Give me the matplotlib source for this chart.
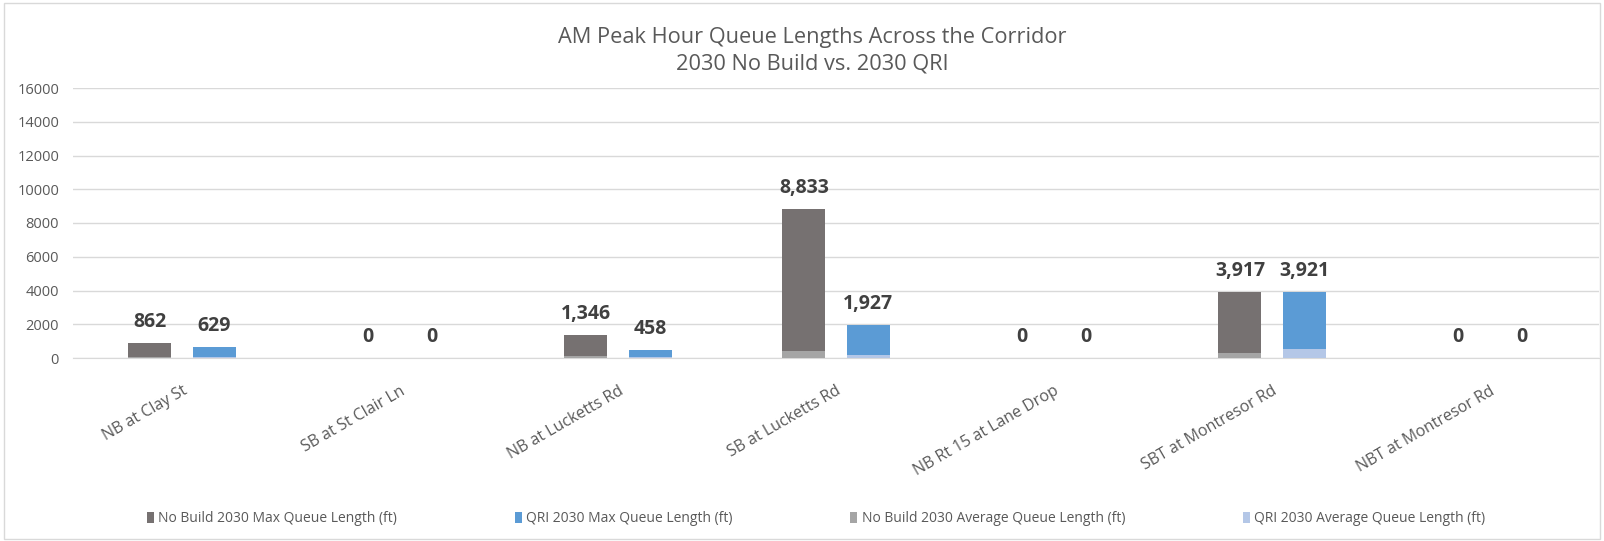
import matplotlib
matplotlib.use('Agg')
import matplotlib.pyplot as plt
import numpy as np
from matplotlib.patches import Rectangle

plt.rcParams['font.family'] = ['Open Sans', 'DejaVu Sans']

locations = ['NB at Clay St', 'SB at St Clair Ln', 'NB at Lucketts Rd', 'SB at Lucketts Rd',
             'NB Rt 15 at Lane Drop', 'SBT at Montresor Rd', 'NBT at Montresor Rd']
nobuild_max = [862, 0, 1346, 8833, 0, 3917, 0]
qri_max = [629, 0, 458, 1927, 0, 3921, 0]
nobuild_avg = [60, 0, 90, 430, 0, 300, 0]
qri_avg = [50, 0, 40, 150, 0, 560, 0]

C_NB_MAX = '#767171'
C_QRI_MAX = '#5b9bd5'
C_NB_AVG = '#a5a5a5'
C_QRI_AVG = '#b4c7e7'
TXT = '#595959'

fig = plt.figure(figsize=(16.04, 5.41), dpi=100)
ax = fig.add_axes([73 / 1604, 1 - 358 / 541, (1599 - 73) / 1604, 270 / 541])

x = np.arange(len(locations))
w = 0.197
off = 0.147

b1 = ax.bar(x - off, nobuild_max, w, color=C_NB_MAX, zorder=2, label='No Build 2030 Max Queue Length (ft)')
b2 = ax.bar(x + off, qri_max, w, color=C_QRI_MAX, zorder=2, label='QRI 2030 Max Queue Length (ft)')
b3 = ax.bar(x - off, nobuild_avg, w, color=C_NB_AVG, zorder=3, label='No Build 2030 Average Queue Length (ft)')
b4 = ax.bar(x + off, qri_avg, w, color=C_QRI_AVG, zorder=3, label='QRI 2030 Average Queue Length (ft)')

# value labels on the max-queue bars only
for bars, vals in ((b1, nobuild_max), (b2, qri_max)):
    for rect, v in zip(bars, vals):
        ax.annotate(f'{v:,}', (rect.get_x() + rect.get_width() / 2, v),
                    xytext=(0, 8), textcoords='offset points', ha='center', va='bottom',
                    fontsize=14, fontweight='bold', color='#404040')

ax.set_xlim(-0.5, len(locations) - 0.5)
ax.set_ylim(0, 16000)
ax.set_yticks(np.arange(0, 16001, 2000))
ax.yaxis.grid(True, color='#d9d9d9', linewidth=1, zorder=0)
ax.set_axisbelow(True)
for s in ('top', 'right', 'left'):
    ax.spines[s].set_visible(False)
ax.spines['bottom'].set_color('#d9d9d9')
ax.tick_params(axis='both', length=0, colors=TXT)
ax.tick_params(axis='y', pad=10, labelsize=10.5)
ax.set_xticks(x)
ax.set_xticklabels(locations, rotation=30, ha='right', rotation_mode='anchor', fontsize=11.5)
ax.tick_params(axis='x', pad=18)

fig.text(812 / 1604, 1 - 37 / 541, 'AM Peak Hour Queue Lengths Across the Corridor',
         ha='center', va='center', fontsize=15.7, color=TXT)
fig.text(812 / 1604, 1 - 64 / 541, '2030 No Build vs. 2030 QRI',
         ha='center', va='center', fontsize=15.7, color=TXT)

fig.legend(handles=[b1, b2, b3, b4], loc='center', bbox_to_anchor=(816 / 1604, 1 - 519 / 541),
           ncol=4, frameon=False, fontsize=10, labelcolor=TXT,
           handlelength=0.5, handleheight=0.8, handletextpad=0.3, columnspacing=8.5)

fig.patches.append(Rectangle((4 / 1604, 2 / 541), 1596 / 1604, 536 / 541, transform=fig.transFigure,
                             fill=False, edgecolor='#d9d9d9', linewidth=1))

fig.savefig('out.png', dpi=100)
